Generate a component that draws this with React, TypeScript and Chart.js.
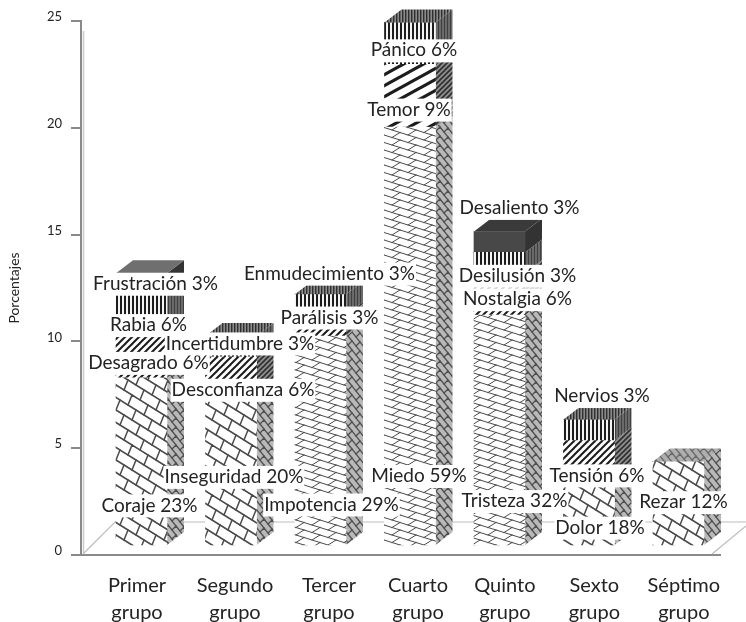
import { useEffect, useRef } from "react";
import { Chart, registerables } from "chart.js";

Chart.register(...registerables);

// Category names, split over two lines under the axis
const categorias = [
  ["Primer", "grupo"],
  ["Segundo", "grupo"],
  ["Tercer", "grupo"],
  ["Cuarto", "grupo"],
  ["Quinto", "grupo"],
  ["Sexto", "grupo"],
  ["Séptimo", "grupo"],
];

// Stacked levels, bottom to top, one value per group
const nivelBase = [8, 7, 10, 20, 11, 3, 4];
const nivelSegundo = [2, 2, 1, 3, 2, 2, 0];
const nivelTercero = [2, 1, 1, 2, 1, 1, 0];
const nivelCuarto = [1, 0, 0, 0, 1, 0, 0];

const ticksY = [0, 5, 10, 15, 20, 25];

// Where each group name sits along the x axis
const posicionNombres = [-0.05, 1.045, 2.095, 3.09, 4.06, 5.06, 6.06];

// Segment captions per level
const textosBase = ["Coraje 23%", "Inseguridad 20%", "Impotencia 29%", "Miedo 59%", "Tristeza 32%", "Dolor 18%", "Rezar 12%"];
const textosSegundo = ["Desagrado 6%", "Desconfianza 6%", "Parálisis 3%", "Temor 9%", "Nostalgia 6%", "Tensión 6%", null];
const textosTercero = ["Rabia 6%", "Incertidumbre 3%", "Enmudecimiento 3%", "Pánico 6%", "Desilusión 3%", "Nervios 3%", null];
const textosCuarto = ["Frustración 3%", null, null, null, "Desaliento 3%", null, null];

// Caption shift from the centre of its segment, as [dx, dy] in pixels
const desvioBase = [[8, 44], [3, 5], [11, 64], [9, 140], [15, 71], [11, 14], [5, -1]];
const desvioSegundo = [[7, 6], [12, 12], [9, -8], [-1, 14], [18, 5], [8, 14], [0, 0]];
const desvioTercero = [[7, 10], [9, -3], [9, -31], [4, 7], [18, 13], [13, -34], [0, 0]];
const desvioCuarto = [[14, 0], [0, 0], [0, 0], [0, 0], [20, -34], [0, 0], [0, 0]];

// Groups whose bricks and hatching use the tighter weave
const tramaApretada = [false, false, true, true, true, false, false];
const rayaAncha = [false, false, false, true, false, false, false];

// Shade of the top face of a solid upper level, per group
const techoSolido = ["#6f6f6f", "#3c3c3c", "#3c3c3c", "#3c3c3c", "#3a3a3a", "#3c3c3c", "#3c3c3c"];

const PROF_X = 17;
const PROF_Y = 13;
const FUENTE = "Lato, 'Open Sans', sans-serif";
const TINTA = "#232323";

type Dibujo = (c: CanvasRenderingContext2D) => void;

function tile(w: number, h: number, fondo: string, dibujo: Dibujo) {
  const lienzo = document.createElement("canvas");
  lienzo.width = w;
  lienzo.height = h;
  const c = lienzo.getContext("2d")!;
  c.fillStyle = fondo;
  c.fillRect(0, 0, w, h);
  dibujo(c);
  return c.createPattern(lienzo, "repeat")!;
}

// Brick bond on a slanted lattice: long courses plus short connectors
function ladrillos(w: number, h: number, a: number[], b: number[], conector: number[], grosor: number, tinta: string): Dibujo {
  return (c) => {
    c.strokeStyle = tinta;
    c.lineWidth = grosor;
    c.lineCap = "round";
    for (let i = -30; i <= 30; i++) {
      for (let j = -30; j <= 30; j++) {
        const x = i * a[0] + j * b[0];
        const y = i * a[1] + j * b[1];
        if (x < -w || x > 2 * w || y < -h || y > 2 * h) continue;
        c.beginPath();
        c.moveTo(x, y);
        c.lineTo(x + a[0], y + a[1]);
        c.moveTo(x, y);
        c.lineTo(x + conector[0], y + conector[1]);
        c.stroke();
      }
    }
  };
}

function diagonales(w: number, h: number, grosor: number, tinta: string): Dibujo {
  return (c) => {
    c.strokeStyle = tinta;
    c.lineWidth = grosor;
    for (let k = -2; k <= 2; k++) {
      c.beginPath();
      c.moveTo(-w + k * w, h + h);
      c.lineTo(2 * w + k * w, -h);
      c.stroke();
    }
  };
}

function verticales(paso: number, ancho: number, fondo: string, tinta: string) {
  return tile(paso, 2, fondo, (c) => {
    c.fillStyle = tinta;
    c.fillRect(0, 0, ancho, 2);
  });
}

function construirTramas() {
  const frente: any[][] = [];
  const lado: any[][] = [];
  const techo: any[][] = [];
  const menudo = (fondo: string, tinta: string) =>
    tile(72, 9, fondo, ladrillos(72, 9, [8, 10], [0, 9], [-4, 4], 1.3, tinta));
  categorias.forEach((_, g) => {
    const apretada = tramaApretada[g];
    const ancha = rayaAncha[g];
    const weave = (fondo: string, tinta: string) =>
      apretada
        ? tile(48, 15, fondo, ladrillos(48, 15, [16, 5], [0, 7.5], [-8, 5], 1, tinta))
        : tile(40, 50, fondo, ladrillos(40, 50, [16, 10], [4, 15], [-4, 10], 1.5, tinta));
    const hatch = (fondo: string, tinta: string) =>
      ancha
        ? tile(20, 11, fondo, diagonales(20, 11, 3.2, tinta))
        : tile(7, 7, fondo, diagonales(7, 7, 2, tinta));
    frente[g] = [
      weave("#ffffff", "#4a4a4a"),
      hatch("#ffffff", "#1c1c1c"),
      verticales(4, 2, "#f4f4f4", "#1d1d1d"),
      "#484848",
    ];
    lado[g] = [
      menudo("#b8b8b8", "#4f4f4f"),
      tile(5, 5, "#8f8f8f", diagonales(5, 5, 1.6, "#2e2e2e")),
      verticales(3, 1, "#6a6a6a", "#3f3f3f"),
      "#333333",
    ];
    techo[g] = [
      menudo("#aeaeae", "#6a6a6a"),
      tile(5, 5, "#7d7d7d", diagonales(5, 5, 1.6, "#2e2e2e")),
      verticales(3, 1.4, "#8a8a8a", "#2f2f2f"),
      techoSolido[g],
    ];
  });
  return { frente, lado, techo };
}

export default function App() {
  const ref = useRef<HTMLCanvasElement>(null);

  useEffect(() => {
    const niveles = [nivelBase, nivelSegundo, nivelTercero, nivelCuarto];
    const textos = [textosBase, textosSegundo, textosTercero, textosCuarto];
    const desvios = [desvioBase, desvioSegundo, desvioTercero, desvioCuarto];
    const { frente, lado, techo } = construirTramas();

    const volumen = {
      id: "volumen",
      // Floor of the box and the lighter rear edge of the value axis
      beforeDatasetsDraw(chart: any) {
        const { ctx, chartArea: a } = chart;
        ctx.save();
        ctx.strokeStyle = "#bdbdbd";
        ctx.lineWidth = 1.2;
        ctx.beginPath();
        ctx.moveTo(a.left + 2, a.bottom - 1);
        ctx.lineTo(a.left + 34, a.bottom - 33);
        ctx.lineTo(746, a.bottom - 33);
        ctx.moveTo(a.right - 8, a.bottom - 1);
        ctx.lineTo(746, a.bottom - 29);
        ctx.stroke();
        ctx.strokeStyle = "#cbcbcb";
        ctx.lineWidth = 1.5;
        ctx.beginPath();
        ctx.moveTo(a.left + 2.5, a.top + 10);
        ctx.lineTo(a.left + 2.5, a.bottom - 2);
        ctx.stroke();

        // Right-hand side of every stacked segment
        niveles.forEach((_, n) => {
          chart.getDatasetMeta(n).data.forEach((bar: any, g: number) => {
            if (!niveles[n][g]) return;
            const x0 = bar.x + bar.width / 2;
            ctx.save();
            ctx.beginPath();
            ctx.moveTo(x0, bar.y);
            ctx.lineTo(x0 + PROF_X, bar.y - PROF_Y);
            ctx.lineTo(x0 + PROF_X, bar.base - PROF_Y);
            ctx.lineTo(x0, bar.base);
            ctx.closePath();
            ctx.fillStyle = lado[g][n];
            ctx.fill();
            ctx.restore();
          });
        });
        ctx.restore();
      },
      afterDatasetsDraw(chart: any) {
        const { ctx } = chart;
        // Top face of each stack, in the pattern of its highest segment
        categorias.forEach((_, g) => {
          let n = niveles.length - 1;
          while (n > 0 && !niveles[n][g]) n--;
          const bar = chart.getDatasetMeta(n).data[g];
          const x0 = bar.x - bar.width / 2;
          ctx.save();
          ctx.beginPath();
          ctx.moveTo(x0, bar.y);
          ctx.lineTo(x0 + PROF_X, bar.y - PROF_Y);
          ctx.lineTo(x0 + bar.width + PROF_X, bar.y - PROF_Y);
          ctx.lineTo(x0 + bar.width, bar.y);
          ctx.closePath();
          ctx.fillStyle = techo[g][n];
          ctx.fill();
          ctx.restore();
        });

        // Captions on white plates
        ctx.save();
        ctx.font = `19px ${FUENTE}`;
        ctx.textAlign = "center";
        ctx.textBaseline = "middle";
        niveles.forEach((_, n) => {
          chart.getDatasetMeta(n).data.forEach((bar: any, g: number) => {
            const texto = textos[n][g];
            if (!texto) return;
            const cx = bar.x + desvios[n][g][0];
            const cy = (bar.y + bar.base) / 2 + desvios[n][g][1];
            const ancho = ctx.measureText(texto).width + 2;
            ctx.fillStyle = "#ffffff";
            ctx.fillRect(cx - ancho / 2, cy - 11, ancho, 23);
            ctx.fillStyle = TINTA;
            ctx.fillText(texto, cx, cy);
          });
        });
        ctx.restore();
      },
    };

    const chart = new Chart(ref.current!, {
      type: "bar",
      data: {
        datasets: niveles.map((valores, n) => ({
          label: `Nivel ${n + 1}`,
          data: valores.map((v, g) => ({ x: g, y: v })),
          backgroundColor: categorias.map((_, g) => frente[g][n]),
          borderWidth: 0,
          barThickness: 51,
          xAxisID: "x",
          yAxisID: "yBarras",
        })),
      },
      options: {
        responsive: false,
        animation: false,
        layout: { padding: { top: 21, right: 26, left: 0, bottom: 0 } },
        plugins: { legend: { display: false }, tooltip: { enabled: false } },
        scales: {
          x: {
            type: "linear",
            stacked: true,
            offset: false,
            min: -0.676,
            max: 6.464,
            afterFit(s: any) {
              s.height = 67;
            },
            afterBuildTicks(s: any) {
              s.ticks = posicionNombres.map((value) => ({ value }));
            },
            grid: { display: false },
            border: { color: "#8a8a8a", width: 2 },
            ticks: {
              autoSkip: false,
              maxRotation: 0,
              padding: 9,
              color: TINTA,
              font: { family: FUENTE, size: 20, lineHeight: 27 / 20 },
              callback: (_v: any, i: number) => categorias[i],
            },
          },
          y: {
            type: "linear",
            min: 0,
            max: 25,
            afterFit(s: any) {
              s.width = 81;
            },
            afterBuildTicks(s: any) {
              s.ticks = ticksY.map((value) => ({ value }));
            },
            grid: { drawOnChartArea: false, color: "#8a8a8a", lineWidth: 2, tickLength: 10 },
            border: { color: "#8a8a8a", width: 2 },
            title: {
              display: true,
              text: "Porcentajes",
              color: TINTA,
              font: { family: FUENTE, size: 14 },
              padding: { top: 6, bottom: 0 },
            },
            ticks: { color: TINTA, padding: 9, labelOffset: -4, font: { family: FUENTE, size: 13 } },
          },
          yBarras: {
            type: "linear",
            axis: "y",
            display: false,
            stacked: true,
            min: -0.478,
            max: 25.07,
          },
        },
      } as any,
      plugins: [volumen],
    } as any);
    return () => chart.destroy();
  }, []);

  return (
    <div style={{ position: "absolute", left: 0, top: 0, width: 746, height: 622 }}>
      <canvas ref={ref} width={746} height={622} />
    </div>
  );
}
